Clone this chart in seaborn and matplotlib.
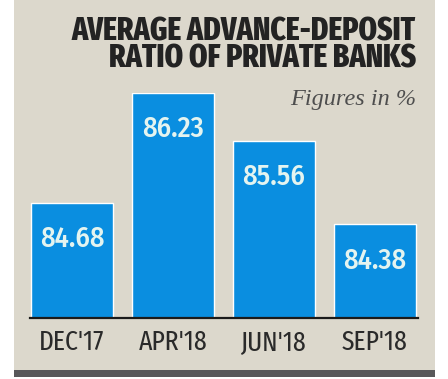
import matplotlib
matplotlib.use('Agg')
import matplotlib.pyplot as plt
import seaborn as sns
import pandas as pd
from matplotlib.patches import Rectangle

periods = ["DEC'17", "APR'18", "JUN'18", "SEP'18"]
ratios = [84.68, 86.23, 85.56, 84.38]
title_lines = ["AVERAGE ADVANCE-DEPOSIT", "RATIO OF PRIVATE BANKS"]
subtitle = "Figures in %"

W, H = 448, 379
sns.set_style('white')
plt.rcParams['font.family'] = ['Fira Sans Extra Condensed', 'DejaVu Sans']

fig = plt.figure(figsize=(W / 100, H / 100), dpi=100)
fig.patch.set_facecolor('white')


def fx(px):
    return px / W


def fy(py):
    return (H - py) / H


# panel background and bottom bar
fig.patches.append(Rectangle((fx(14), fy(370)), fx(435) - fx(14), 1 - fy(370),
                             transform=fig.transFigure, facecolor='#dcd8cc',
                             edgecolor='none', zorder=-10))
fig.patches.append(Rectangle((fx(14), fy(377)), fx(435) - fx(14), fy(370) - fy(377),
                             transform=fig.transFigure, facecolor='#58585a',
                             edgecolor='none', zorder=-10))

ax = fig.add_axes([fx(30), fy(318), fx(418) - fx(30), fy(93) - fy(318)])
ax.set_facecolor('none')

df = pd.DataFrame({'period': periods, 'ratio': ratios})
sns.barplot(data=df, x='period', y='ratio', color='#0a8ee0', saturation=1,
            width=0.81, ax=ax)
ax.set_ylim(83.06, 86.23)
ax.set_xlim(-0.416, 3.426)

for i, v in enumerate(ratios):
    ax.annotate(f"{v:.2f}", xy=(i, v), xytext=(0, -36), textcoords='offset pixels',
                ha='center', va='center', color='#e4f4f0', fontsize=20.5,
                fontweight='medium', family=['Fira Sans Condensed', 'DejaVu Sans'])

for s in ['top', 'right', 'left']:
    ax.spines[s].set_visible(False)
ax.spines['bottom'].set_color('#1a1a1a')
ax.spines['bottom'].set_linewidth(1.6)
ax.set_yticks([])
ax.set_xlabel('')
ax.set_ylabel('')
ax.tick_params(axis='x', length=0, pad=8, labelsize=20, labelcolor='#2a2a2a')

title = fig.text(fx(416), fy(68), "\n".join(title_lines), ha='right', va='baseline',
                 multialignment='right', fontsize=25, fontweight='heavy',
                 color='#232323', linespacing=1.0)
sub = fig.text(fx(416), fy(105), subtitle, ha='right', va='baseline',
               fontsize=17.5, style='italic', color='#4e4e4e',
               family=['Liberation Serif', 'DejaVu Serif'])

# fit title width to reference width (first line spans 72..416 px)
renderer = fig.canvas.get_renderer()
probe = fig.text(0, 0, title_lines[0], fontsize=25, fontweight='heavy')
w = probe.get_window_extent(renderer).width
probe.remove()
fs = 25 * 344 / w
title.set_fontsize(fs)
title.set_linespacing(26 / (fs * 100 / 72))

fig.savefig('out.png', dpi=100, facecolor=fig.get_facecolor())
